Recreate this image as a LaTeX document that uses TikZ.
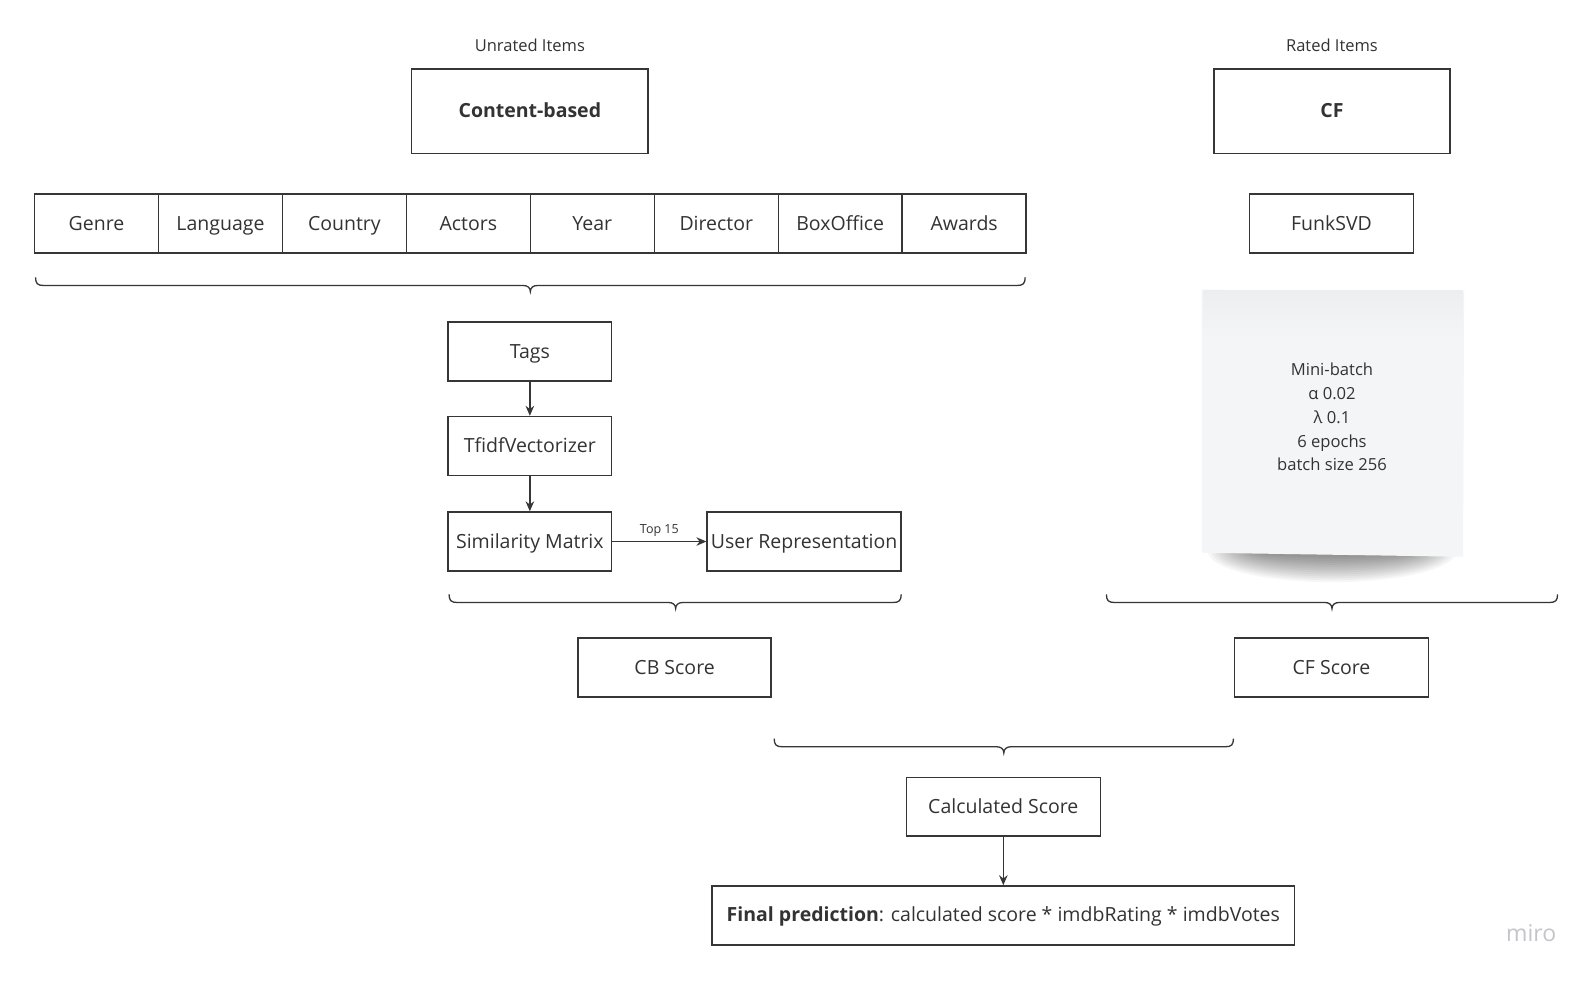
\documentclass[tikz,border=0pt]{standalone}
\usepackage{fontspec}
\setmainfont{Open Sans}
\usetikzlibrary{arrows.meta}
\definecolor{ink}{HTML}{333333}
\definecolor{linec}{HTML}{363636}
\definecolor{notebg}{HTML}{F4F5F7}
\definecolor{notetop}{HTML}{EDEEF0}
\definecolor{mirogray}{HTML}{C4C4CA}
\tikzset{
  box/.style={draw=linec, line width=1.5pt, fill=white, text=ink, inner sep=0pt,
    font=\fontsize{19.5}{22}\selectfont, text height=1.3em, text depth=0pt,
    minimum height=58.9pt},
  bw/.style={minimum width=#1*1.016pt},
  bigbox/.style={box, minimum height=84.3pt, font=\fontsize{19.5}{22}\selectfont\bfseries},
  caption/.style={text=ink, font=\fontsize{16.5}{18}\selectfont, inner sep=0pt},
  conn/.style={draw=linec, line width=1.5pt, -{Stealth[length=10pt,width=8.5pt]}},
  bracestyle/.style={draw=linec, line width=1.3pt},
  smalllab/.style={text=ink, font=\fontsize{12.5}{14}\selectfont, inner sep=0pt},
  notetext/.style={text=ink, align=center, font=\fontsize{16.6}{23.7}\selectfont, inner sep=0pt}
}
\newcommand\mybrace[4]{%
  \draw[bracestyle] (#1,#3-8) .. controls (#1,#3-2) and (#1+2,#3) .. (#1+8,#3)
    -- (#4-7,#3) .. controls (#4-3,#3) and (#4,#3+2) .. (#4,#3+6)
    .. controls (#4,#3+2) and (#4+3,#3) .. (#4+7,#3)
    -- (#2-8,#3) .. controls (#2-2,#3) and (#2,#3-2) .. (#2,#3-8);}
\begin{document}
\begin{tikzpicture}[x=1.016pt,y=-1.016pt]
\useasboundingbox[fill=white] (0,0) rectangle (1567.9,964.6);

% headers
\node[caption] (unrated) at (521.5,45) {Unrated Items};
\node[caption] (rated) at (1311,45) {Rated Items};
\node[bigbox, bw=233] (cb) at (521.5,109.5) {Content-based};
\node[bigbox, bw=232] (cf) at (1311,109.5) {CF};

% attribute row
\foreach \t [count=\i from 0] in {Genre,Language,Country,Actors,Year,Director,BoxOffice,Awards}{
  \node[box, bw=122] (attr\i) at (95+122*\i,220) {\t};
}
\node[box, bw=161] (funk) at (1310.5,220) {FunkSVD};

% brace under attributes
\mybrace{35}{1009}{281}{522}

% content pipeline
\node[box, bw=161] (tags) at (521.5,346) {Tags};
\node[box, bw=161] (tfidf) at (521.5,439) {TfidfVectorizer};
\node[box, bw=161] (sim) at (521.5,533) {Similarity Matrix};
\node[box, bw=191] (user) at (791.5,533) {User Representation};
\draw[conn] (tags) -- (tfidf);
\draw[conn] (tfidf) -- (sim);
\draw[conn] (sim) -- node[smalllab, above=4pt] (top15) {Top 15} (user);

% sticky note with soft shadow
\foreach \k in {0,...,13}{
  \fill[black, opacity=0.035] (1311,543) ellipse [x radius=122-3.5*\k, y radius=30-1.9*\k];
}
\fill[notebg] (1183,285) -- (1441,287) -- (1440,548) -- (1183,544) -- cycle;
\shade[top color=notetop, bottom color=notebg] (1184,286) rectangle (1440,332);
\node[notetext] (note) at (1311,410.5) {Mini-batch\\α 0.02\\λ 0.1\\6 epochs\\batch size 256};

% braces to scores
\mybrace{442}{887}{593}{665}
\mybrace{1089}{1533}{593}{1311}
\node[box, bw=190] (cbscore) at (664,657) {CB Score};
\node[box, bw=191] (cfscore) at (1310.5,657) {CF Score};

% combine
\mybrace{762}{1214}{735}{988}
\node[box, bw=191] (calc) at (987.5,794) {Calculated Score};
\node[box, bw=573] (final) at (987.5,901) {\textbf{Final prediction}: calculated score * imdbRating * imdbVotes};
\draw[conn] (calc) -- (final);

% watermark
\node[text=mirogray, font=\fontsize{23}{26}\selectfont, inner sep=0pt] (miro) at (1507,918) {miro};
\end{tikzpicture}
\end{document}
